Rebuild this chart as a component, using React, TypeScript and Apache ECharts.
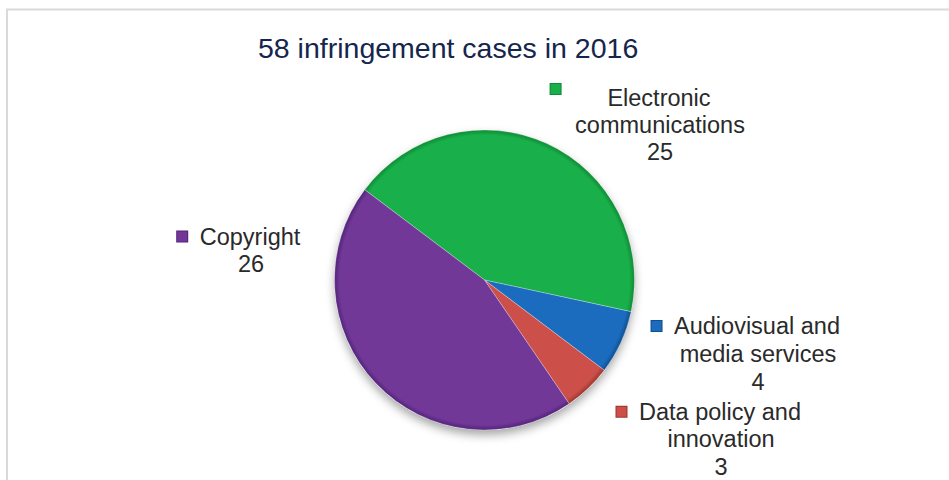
import React, { useEffect, useRef } from "react";
import * as echarts from "echarts";

const titleText = "58 infringement cases in 2016";
const categories = [
  "Electronic communications",
  "Audiovisual and media services",
  "Data policy and innovation",
  "Copyright",
];
const labelLines = [
  ["Electronic", "communications"],
  ["Audiovisual and", "media services"],
  ["Data policy and", "innovation"],
  ["Copyright"],
];
const values = [25, 4, 3, 26];
const baseColors = ["#19b04b", "#1b6cbf", "#cc4f49", "#723898"];
const rimColors = ["#0f8a35", "#0f4f90", "#9c3530", "#52237a"];

const CX = 484.5;
const CY = 280;
const R = 150;
const labelPos: [number, number, number][] = [
  [660, 84, 27],
  [758, 312, 28],
  [721, 398, 27.5],
  [251, 223, 27],
];

export default function App() {
  const ref = useRef<HTMLDivElement>(null);
  useEffect(() => {
    if (!ref.current) return;
    const chart = echarts.init(ref.current, null, { renderer: "svg" });
    const total = values.reduce((a, b) => a + b, 0);
    const rich: any = {
      t: {
        align: "center",
        fontSize: 23.5,
        fontFamily: "Liberation Sans, Arial, sans-serif",
        color: "#2a2a2a",
      },
      g: { align: "left", width: 12.5 },
      sl: { align: "left", width: 24.5 },
      sr: { align: "right", width: 24.5 },
    };
    baseColors.forEach((c, i) => {
      rich["m" + i] = {
        align: "left",
        width: 10,
        height: 10,
        backgroundColor: c,
        borderColor: rimColors[i],
        borderWidth: 1,
        verticalAlign: i === 0 ? "top" : "middle",
        padding: i === 0 ? [0, 0, 0, 0] : 0,
      };
    });
    const data = categories.map((name, i) => ({
      name,
      value: values[i],
      itemStyle: {
        color: {
          type: "radial",
          x: CX,
          y: CY,
          r: R,
          global: true,
          colorStops: [
            { offset: 0, color: baseColors[i] },
            { offset: 0.9, color: baseColors[i] },
            { offset: 0.965, color: baseColors[i] },
            { offset: 1, color: rimColors[i] },
          ],
        },
      },
      label: {
        rich: Object.fromEntries(
          Object.entries(rich).map(([k, v]: any) => [k, { ...v, lineHeight: labelPos[i][2] }])
        ),
      },
    }));
    chart.setOption({
      animation: false,
      title: {
        text: titleText,
        left: 258,
        top: 33,
        padding: 0,
        textStyle: {
          fontSize: 28.5,
          fontWeight: "normal",
          color: "#15264d",
          fontFamily: "Liberation Sans, Arial, sans-serif",
        },
      },
      graphic: [
        {
          type: "rect",
          shape: { x: 7, y: 9.5, width: 980, height: 500 },
          style: { fill: "none", stroke: "#dadada", lineWidth: 2 },
          silent: true,
        },
      ],
      series: [
        {
          type: "pie",
          silent: true,
          center: [CX, CY],
          radius: R,
          label: { show: false },
          labelLine: { show: false },
          data: [{ value: total, name: "shadow" }],
          itemStyle: {
            color: "#ffffff",
            shadowBlur: 10,
            shadowOffsetY: 5,
            shadowColor: "rgba(0,0,0,0.35)",
          },
          z: 1,
        },
        {
          type: "pie",
          center: [CX, CY],
          radius: R,
          startAngle: 143,
          clockwise: true,
          z: 2,
          itemStyle: {
            borderColor: "rgba(255,255,255,0.35)",
            borderWidth: 0.8,
          },
          label: {
            show: true,
            position: "outside",
            formatter: (p: any) => {
              const lines = labelLines[p.dataIndex];
              const out: string[] = [];
              lines.forEach((l, k) => {
                if (k === 0) out.push(`{m${p.dataIndex}|}{g|}{t|${l}}{sr|}`);
                else out.push(`{sl|}{t|${l}}{sr|}`);
              });
              out.push(`{sl|}{t|${p.value}}{sr|}`);
              return out.join("\n");
            },
            rich,
          },
          labelLine: { show: false },
          labelLayout: (params: any) => {
            const p = labelPos[params.dataIndex];
            return { x: p[0], y: p[1], align: "center", verticalAlign: "top", hideOverlap: false };
          },
          data,
        },
      ],
    });
    return () => chart.dispose();
  }, []);
  return (
    <div
      ref={ref}
      style={{ position: "fixed", left: 0, top: 0, width: 949, height: 480, background: "#fff" }}
    />
  );
}
